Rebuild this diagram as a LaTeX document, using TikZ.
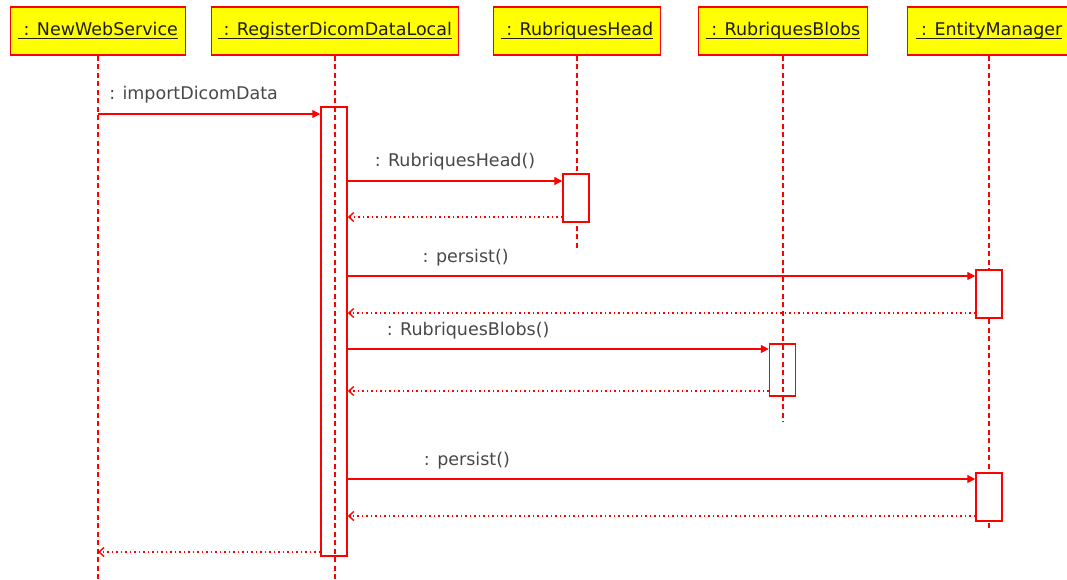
\documentclass[tikz,border=0pt]{standalone}
\usepackage{fontspec}
\setmainfont{DejaVu Sans}
\usetikzlibrary{arrows.meta}
\definecolor{umlred}{RGB}{255,0,0}
\definecolor{umlyel}{RGB}{255,255,0}
\definecolor{lblgray}{RGB}{72,72,72}
\definecolor{hdrink}{RGB}{30,30,10}
\newcommand\hdrtext[1]{\setbox0=\hbox{#1}\rlap{\rule[-3.5pt]{\wd0}{1.2pt}}\box0}
\begin{document}
\begin{tikzpicture}[x=1pt,y=-1pt,font=\fontsize{17.5}{21}\selectfont,
 hdr/.style={draw=umlred,fill=umlyel,line width=1.3pt,minimum height=48pt,inner sep=0pt,text=hdrink},
 life/.style={draw=umlred,line width=1.8pt,dash pattern=on 5pt off 3.5pt},
 actv/.style={draw=umlred,line width=1.5pt,inner sep=0pt,minimum width=26pt},
 call/.style={draw=umlred,line width=1.4pt,-{Triangle[length=8pt,width=8pt]}},
 ret/.style={draw=umlred,line width=1.4pt,dash pattern=on 1.5pt off 3pt,-{Straight Barb[length=5pt,width=9pt]}},
 lbl/.style={text=lblgray,anchor=base,inner sep=0pt,yshift=14pt}]
\useasboundingbox (0,0) rectangle (1067,580);
\clip (0,0) rectangle (1067,580);
% headers
\node[hdr,minimum width=175pt] (h1) at (98,31) {\hdrtext{\ : NewWebService}};
\node[hdr,minimum width=247pt] (h2) at (335,31) {\hdrtext{\ : RegisterDicomDataLocal}};
\node[hdr,minimum width=167pt] (h3) at (577,31) {\hdrtext{\ : RubriquesHead}};
\node[hdr,minimum width=169pt] (h4) at (783,31) {\hdrtext{\ : RubriquesBlobs}};
\node[hdr,minimum width=163pt] (h5) at (989,31) {\hdrtext{\ : EntityManager}};
% lifeline ends
\coordinate (bot) at (0,581);
\coordinate (e3) at (0,251);
\coordinate (e4) at (0,422);
\coordinate (e5) at (0,529);
\draw[life] (h1.south) -- (h1.south |- bot);
\draw[life] (h2.south) -- (h2.south |- bot);
\draw[life] (h3.south) -- (h3.south |- e3);
\draw[life] (h4.south) -- (h4.south |- e4);
\draw[life] (h5.south) -- (h5.south |- e5);
% activations
\node[actv,minimum height=449pt] (a0) at (334,331.5) {};
\node[actv,fill=white,minimum height=48pt] (ah) at (576,198) {};
\node[actv,fill=white,minimum height=48pt] (ae1) at (989,294) {};
\node[actv,minimum height=52pt] (ab) at (782.5,370) {};
\node[actv,fill=white,minimum height=48pt] (ae2) at (989,497) {};
% message levels
\coordinate (m1) at (0,114);
\coordinate (m2) at (0,181);
\coordinate (r2) at (0,217);
\coordinate (m3) at (0,276);
\coordinate (r3) at (0,313);
\coordinate (m4) at (0,349);
\coordinate (r4) at (0,391);
\coordinate (m5) at (0,479);
\coordinate (r5) at (0,516);
\coordinate (r6) at (0,552);
% messages
\draw[call] (h1.south |- m1) -- node[lbl,pos=0.43] {: importDicomData} (a0.west |- m1);
\draw[call] (a0.east |- m2) -- node[lbl,pos=0.5] {: RubriquesHead()} (ah.west |- m2);
\draw[ret] (ah.west |- r2) -- (a0.east |- r2);
\draw[call] (a0.east |- m3) -- node[lbl,pos=0.188] {: persist()} (ae1.west |- m3);
\draw[ret] (ae1.west |- r3) -- (a0.east |- r3);
\draw[call] (a0.east |- m4) -- node[lbl,pos=0.286] {: RubriquesBlobs()} (ab.west |- m4);
\draw[ret] (ab.west |- r4) -- (a0.east |- r4);
\draw[call] (a0.east |- m5) -- node[lbl,pos=0.19] {: persist()} (ae2.west |- m5);
\draw[ret] (ae2.west |- r5) -- (a0.east |- r5);
\draw[ret] (a0.west |- r6) -- (h1.south |- r6);
\end{tikzpicture}
\end{document}
